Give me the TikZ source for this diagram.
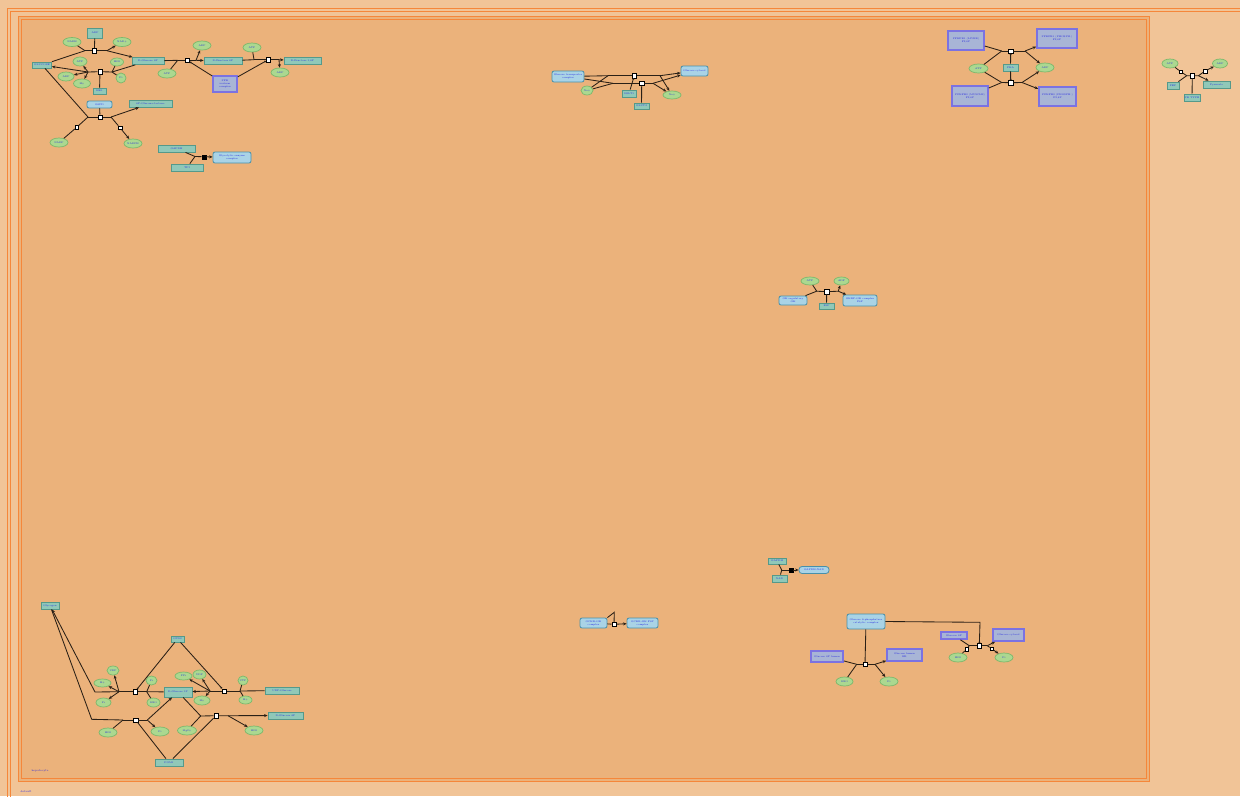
\documentclass[tikz,border=0pt]{standalone}
\usetikzlibrary{shapes.geometric,arrows.meta}
\definecolor{bgout}{HTML}{F1C497}
\definecolor{bgin}{HTML}{EBB27B}
\definecolor{frame}{HTML}{F5873A}
\definecolor{tealf}{HTML}{90C8B8}
\definecolor{tealb}{HTML}{55998A}
\definecolor{ellf}{HTML}{ABD890}
\definecolor{ellb}{HTML}{7CB86C}
\definecolor{bluef}{HTML}{A9D3E6}
\definecolor{blueb}{HTML}{4890AA}
\definecolor{purf}{HTML}{A8B5D6}
\definecolor{purb}{HTML}{7B72E2}
\definecolor{txt}{HTML}{2424E0}
\definecolor{ln}{HTML}{2A2016}
\tikzset{
 lbl/.style={font=\fontsize{2.4}{2.8}\selectfont, text=txt, align=center, inner sep=0pt},
 sz/.style 2 args={minimum width=#1pt, minimum height=#2pt},
 sp/.style={lbl, draw=tealb, fill=tealf, line width=0.8pt, rectangle},
 el/.style={lbl, draw=ellb, fill=ellf, line width=0.7pt, ellipse},
 bl/.style={lbl, draw=blueb, fill=bluef, line width=0.8pt, rounded corners=2pt, rectangle},
 pu/.style={lbl, draw=purb, fill=purf, line width=1.6pt, rectangle},
 proc/.style={draw=black, fill=white, line width=0.5pt, minimum size=4.5pt, inner sep=0pt, rectangle},
 procf/.style={draw=black, fill=black, minimum size=4pt, inner sep=0pt, rectangle},
 sm/.style={draw=black, fill=white, line width=0.4pt, minimum size=3.5pt, inner sep=0pt, rectangle},
 ed/.style={draw=ln, line width=0.85pt},
 ar/.style={ed, -{Stealth[length=3.5pt,width=3pt]}},
 md/.style={ed, -{Circle[open,length=1.8pt,fill=white]}},
}
\begin{document}
\begin{tikzpicture}[x=1pt,y=-1pt]
\useasboundingbox (0,0) rectangle (1240,796);
\fill[bgout] (0,0) rectangle (1240,796);
\draw[frame, line width=0.8pt] (7.5,8) rectangle (1260,810);
\draw[frame, line width=0.8pt] (10.5,11) rectangle (1260,810);
\fill[bgin] (18,16) rectangle (1149,781);
\draw[frame, line width=0.8pt] (18,16) rectangle (1149,781);
\draw[frame, line width=0.8pt] (21,19) rectangle (1146,778);

% ---------------- cluster A (top left)
\node[sp,sz={15}{10}] (a1) at (95,33) {ADP};
\node[el,sz={18}{9}] (a2) at (72,42) {NADH};
\node[el,sz={18}{9}] (a3) at (122,42) {NAD+};
\node[sp,sz={19}{6}] (a4) at (42,65) {GLUCOSE};
\node[sp,sz={32}{7}] (a5) at (148,61) {D-Glucose 6P};
\node[el,sz={14}{9}] (a6) at (80,61.5) {ATP};
\node[el,sz={13}{8}] (a7) at (117,62) {H2O};
\node[el,sz={16}{9}] (a8) at (66,76.5) {ADP};
\node[el,sz={17}{9}] (a9) at (82,83.5) {H+};
\node[el,sz={10}{10}] (a10) at (121,78) {Pi};
\node[sp,sz={13}{6}] (a11) at (99.5,91) {HK1};
\node[bl,sz={25}{7}] (a12) at (99.5,104.5) {G6PD};
\node[sp,sz={43}{7}] (a13) at (150.5,103.5) {6P-Glucono-lactone};
\node[el,sz={18}{9}] (a14) at (59,142.5) {NADP};
\node[el,sz={18}{9}] (a15) at (133,143.5) {NADPH};
\node[el,sz={18}{9}] (a16) at (167,73.5) {ATP};
\node[el,sz={18}{9}] (a17) at (202,45.5) {ADP};
\node[sp,sz={38}{7}] (a18) at (223,61) {D-Fructose 6P};
\node[pu,sz={24}{16}] (a19) at (225,84) {PFK\\isoform\\complex};
\node[el,sz={18}{9}] (a20) at (252,47.5) {ATP};
\node[sp,sz={37}{7}] (a21) at (302.5,61) {D-Fructose 1,6P};
\node[el,sz={18}{9}] (a22) at (280,72.5) {ADP};
\node[sp,sz={37}{7}] (a23) at (176.5,148.5) {GAPDH};
\node[sp,sz={32}{7}] (a24) at (187,167.5) {TPI};
\node[bl,sz={38}{11}] (a25) at (232,157.5) {Glycolytic enzyme\\complex};

\node[proc] (rA1) at (94.3,50.7) {};
\node[proc] (rA2) at (100,71.7) {};
\node[proc] (rA3) at (100,117) {};
\node[proc] (rA4) at (187.3,60.3) {};
\node[proc] (rA5) at (268.3,59.7) {};
\node[procf] (rA6) at (203.7,156.7) {};
\node[sm] (sA1) at (76.7,127.3) {};
\node[sm] (sA2) at (120,127.7) {};
\coordinate (jA1in) at (85,50.7);
\coordinate (jA1out) at (107,50.7);
\coordinate (jA2in) at (112,72);
\coordinate (jA2out) at (88,72);
\coordinate (jA3in) at (88,117);
\coordinate (jA3out) at (111,117);
\coordinate (jA4in) at (177.7,60.3);
\coordinate (jA4out) at (196,60.3);
\coordinate (jA5in) at (254,59.7);
\coordinate (jA5out) at (279,59.7);
\coordinate (jA6in) at (195,156.5);

\draw[ed] (a4) -- (jA1in);
\draw[ed] (a2) -- (jA1in);
\draw[ed] (jA1in) -- (rA1) -- (jA1out);
\draw[ar] (jA1out) -- (a5);
\draw[ar] (jA1out) -- (a3);
\draw[ed] (a1) -- (rA1);

\draw[ed] (a5) -- (jA2in);
\draw[ed] (a7) -- (jA2in);
\draw[ed] (a10) -- (jA2in);
\draw[ed] (jA2in) -- (rA2) -- (jA2out);
\draw[ar] (jA2out) -- (a4);
\draw[ar] (jA2out) -- (a8);
\draw[ar] (jA2out) -- (a9);
\draw[ar] (jA2out) -- (a6);
\draw[ed] (a11) -- (rA2);

\draw[ed] (a4) -- (jA3in);
\draw[ed] (a14) -- (sA1) -- (jA3in);
\draw[ed] (jA3in) -- (rA3) -- (jA3out);
\draw[ar] (jA3out) -- (a13);
\draw[ed] (jA3out) -- (sA2);
\draw[ar] (sA2) -- (a15);
\draw[ed] (a12) -- (rA3);

\draw[ed] (a5) -- (jA4in);
\draw[ed] (a16) -- (jA4in);
\draw[ed] (jA4in) -- (rA4) -- (jA4out);
\draw[ar] (jA4out) -- (a18);
\draw[ar] (jA4out) -- (a17);
\draw[md] (a19) -- (rA4);

\draw[ed] (a18) -- (jA5in);
\draw[ed] (a20) -- (jA5in);
\draw[ed] (jA5in) -- (rA5) -- (jA5out);
\draw[ar] (jA5out) -- (a21);
\draw[ar] (jA5out) -- (a22);
\draw[md] (a19) -- (rA5);

\draw[ed] (a23) -- (jA6in);
\draw[ed] (a24) -- (jA6in);
\draw[ed] (jA6in) -- (rA6);
\draw[ar] (rA6) -- (a25);

% ---------------- cluster B (top middle)
\node[bl,sz={32}{11}] (b1) at (568,76.5) {Glucose transporter\\complex};
\node[el,sz={12}{9}] (b2) at (587,90.5) {Na+};
\node[sp,sz={14}{7}] (b3) at (629,93.5) {SGLT1};
\node[sp,sz={15}{6}] (b4) at (641.5,106) {GLUT2};
\node[el,sz={18}{8}] (b5) at (672,95) {Na+};
\node[bl,sz={27}{10}] (b6) at (694.5,71) {Glucose cytosol};
\node[proc] (rB1) at (634.3,75.7) {};
\node[proc] (rB2) at (641.7,83.3) {};
\coordinate (jB1in) at (608,75.7);
\coordinate (jB1out) at (660,75.7);
\coordinate (jB2in) at (613,83.3);
\coordinate (jB2out) at (653,83.3);
\draw[ed] (b1) -- (jB1in);
\draw[ed] (b2) -- (jB1in);
\draw[ed] (jB1in) -- (rB1) -- (jB1out);
\draw[ar] (jB1out) -- (b6);
\draw[ar] (jB1out) -- (b5);
\draw[ed] (b1) -- (jB2in);
\draw[ed] (b2) -- (jB2in);
\draw[ed] (jB2in) -- (rB2) -- (jB2out);
\draw[ar] (jB2out) -- (b6);
\draw[ar] (jB2out) -- (b5);
\draw[md] (b3) -- (rB1);
\draw[ed] (b4) -- (rB2);

% ---------------- cluster C (top right)
\node[pu,sz={36}{19}] (c1) at (966,40.5) {PFKFB1 (LIVER)\\F2,6P};
\node[pu,sz={40}{19}] (c2) at (1057,38.5) {PFKFB1 (PHOSPH.)\\F2,6P};
\node[el,sz={19}{9}] (c3) at (978.5,68.5) {ATP};
\node[sp,sz={15}{7}] (c4) at (1010.5,67.5) {PKA};
\node[el,sz={18}{9}] (c5) at (1045,67.5) {ADP};
\node[pu,sz={36}{20}] (c6) at (970,96) {PFKFB3 (MUSCLE)\\F2,6P};
\node[pu,sz={37}{19}] (c7) at (1057.5,96.5) {PFKFB3 (PHOSPH.)\\F2,6P};
\node[proc] (rC1) at (1010.7,51) {};
\node[proc] (rC2) at (1010.7,82.7) {};
\coordinate (jC1in) at (1001.7,51);
\coordinate (jC1out) at (1025,51);
\coordinate (jC2in) at (1001.7,82.5);
\coordinate (jC2out) at (1022,82.5);
\draw[ed] (c1) -- (jC1in);
\draw[ed] (c3) -- (jC1in);
\draw[ed] (jC1in) -- (rC1) -- (jC1out);
\draw[ar] (jC1out) -- (c2);
\draw[ar] (jC1out) -- (c5);
\draw[md] (c4) -- (rC1);
\draw[ed] (c6) -- (jC2in);
\draw[ed] (c3) -- (jC2in);
\draw[ed] (jC2in) -- (rC2) -- (jC2out);
\draw[ar] (jC2out) -- (c5);
\draw[ar] (jC2out) -- (c7);
\draw[md] (c4) -- (rC2);

% ---------------- cluster D (far right)
\node[el,sz={16}{9}] (d1) at (1170,63.5) {ATP};
\node[el,sz={15}{9}] (d2) at (1220,63.5) {ADP};
\node[sp,sz={12}{7}] (d3) at (1173,85.5) {PEP};
\node[sp,sz={27}{7}] (d4) at (1216.5,84.5) {Pyruvate};
\node[sp,sz={16}{7}] (d5) at (1192,97.5) {PK TYPE};
\node[proc] (rD) at (1192.3,75.7) {};
\node[sm] (sD1) at (1180.7,71.7) {};
\node[sm] (sD2) at (1205,71) {};
\coordinate (jDin) at (1186.7,75.7);
\coordinate (jDout) at (1198.5,75.7);
\draw[ed] (d1) -- (sD1) -- (jDin);
\draw[ed] (d3) -- (jDin);
\draw[ed] (jDin) -- (rD) -- (jDout) -- (sD2);
\draw[ar] (sD2) -- (d2);
\draw[ar] (jDout) -- (d4);
\draw[ed] (d5) -- (rD);

% ---------------- cluster E (middle)
\node[el,sz={18}{8}] (e1) at (810,281) {ATP};
\node[el,sz={15}{8}] (e2) at (841.5,281) {ADP};
\node[bl,sz={28}{9}] (e3) at (793,300.5) {GK regulatory\\GK};
\node[bl,sz={34}{11}] (e4) at (860,300.5) {GKRP-GK complex\\F6P};
\node[sp,sz={15}{6}] (e5) at (826.5,306) {F6P};
\node[proc] (rE) at (826.7,291.7) {};
\coordinate (jEin) at (816.7,291.2);
\coordinate (jEout) at (838.3,291.2);
\draw[ed] (e3) -- (jEin);
\draw[ed] (e1) -- (jEin);
\draw[ed] (jEin) -- (rE) -- (jEout);
\draw[ar] (jEout) -- (e2);
\draw[ar] (jEout) -- (e4);
\draw[ed] (e5) -- (rE);

% ---------------- cluster F (bottom left)
\node[sp,sz={18}{7}] (f1) at (50,605.5) {Glycogen};
\node[sp,sz={13}{6}] (f2) at (177.5,639) {GYS2};
\node[el,sz={12}{9}] (f3) at (113,670.5) {UDP};
\node[el,sz={17}{8}] (f4) at (102.5,683) {H+};
\node[el,sz={15}{9}] (f5) at (103.5,702.5) {Pi};
\node[el,sz={11}{9}] (f6) at (151.5,680.5) {Pi};
\node[el,sz={13}{9}] (f7) at (153.5,702.5) {H2O};
\node[sp,sz={28}{10}] (f8) at (178,692) {D-Glucose 1P};
\node[el,sz={17}{8}] (f9) at (183.5,676) {PPi};
\node[el,sz={13}{9}] (f10) at (199.5,674.5) {UDP};
\node[el,sz={16}{9}] (f11) at (202,700.5) {H+};
\node[el,sz={10}{9}] (f12) at (243,680.5) {UTP};
\node[el,sz={13}{8}] (f13) at (245.5,700) {H+};
\node[sp,sz={34}{7}] (f14) at (282,690.5) {UDP-Glucose};
\node[sp,sz={35}{7}] (f15) at (285.5,715.5) {D-Glucose 6P};
\node[el,sz={18}{9}] (f16) at (254,730.5) {H2O};
\node[el,sz={19}{9}] (f17) at (187,730.5) {Mg2+};
\node[el,sz={18}{9}] (f18) at (160,731.5) {Pi};
\node[el,sz={18}{9}] (f19) at (108,732.5) {H2O};
\node[sp,sz={28}{7}] (f20) at (169,762.5) {PGM1};
\node[proc] (rF1) at (135,691.7) {};
\node[proc] (rF2) at (135.7,720) {};
\node[proc] (rF3) at (224.3,691) {};
\node[proc] (rF4) at (216,715.7) {};
\coordinate (jF1in) at (146.7,691.7);
\coordinate (jF1out) at (119,691.7);
\coordinate (cF1) at (95,692);
\coordinate (cF2) at (91.7,719.3);
\coordinate (jF2in) at (123,720);
\coordinate (jF2out) at (147.3,720);
\coordinate (jF3in) at (240,691);
\coordinate (jF3out) at (210,691);
\coordinate (jF4in) at (200.7,716);
\coordinate (jF4out) at (228,715.7);

\draw[ed] (f8) -- (jF1in);
\draw[ed] (f6) -- (jF1in);
\draw[ed] (f7) -- (jF1in);
\draw[ed] (jF1in) -- (rF1) -- (jF1out);
\draw[ar] (jF1out) -- (f3);
\draw[ar] (jF1out) -- (f4);
\draw[ar] (jF1out) -- (f5);
\draw[ar] (jF1out) -- (cF1) -- (f1);
\draw[md] (f2) -- (rF1);

\draw[ed] (f1) -- (cF2) -- (jF2in);
\draw[ed] (f19) -- (jF2in);
\draw[ed] (jF2in) -- (rF2) -- (jF2out);
\draw[ar] (jF2out) -- (f8);
\draw[ar] (jF2out) -- (f18);
\draw[ed] (f20) -- (rF2);

\draw[ed] (f14) -- (jF3in);
\draw[ed] (f12) -- (jF3in);
\draw[ed] (f13) -- (jF3in);
\draw[ed] (jF3in) -- (rF3) -- (jF3out);
\draw[ar] (jF3out) -- (f8);
\draw[ar] (jF3out) -- (f9);
\draw[ar] (jF3out) -- (f10);
\draw[ar] (jF3out) -- (f11);
\draw[md] (f2) -- (rF3);

\draw[ed] (f8) -- (jF4in);
\draw[ed] (f17) -- (jF4in);
\draw[ed] (jF4in) -- (rF4) -- (jF4out);
\draw[ar] (jF4out) -- (f15);
\draw[ar] (jF4out) -- (f16);
\draw[ed] (f20) -- (rF4);

% ---------------- cluster G (bottom middle)
\node[bl,sz={27}{10}] (g1) at (593.5,623) {GCKR-GK\\complex};
\node[bl,sz={31}{10}] (g2) at (642.5,623) {GCKR-GK F6P\\complex};
\node[proc] (rG) at (614,624.3) {};
\coordinate (cG) at (614.3,612.3);
\draw[ed] (g1.north east) -- (cG) -- (rG);
\draw[ed] (g1) -- (rG);
\draw[ar] (rG) -- (g2);

% ---------------- cluster H (bottom right)
\node[sp,sz={18}{6}] (h1) at (777,561) {GAPDH};
\node[sp,sz={15}{7}] (h2) at (779.5,578.5) {NAD};
\node[procf] (rH) at (790.7,570) {};
\node[bl,sz={30}{7},rounded corners=3pt] (h3) at (814,570) {GAPDH-NAD};
\coordinate (jH) at (781.7,570);
\draw[ed] (h1) -- (jH);
\draw[ed] (h2) -- (jH);
\draw[ed] (jH) -- (rH);
\draw[ar] (rH) -- (h3);

\node[bl,sz={38}{15}] (h4) at (866,621.5) {Glucose 6-phosphatase\\catalytic complex};
\node[pu,sz={32}{11}] (h5) at (827,656.5) {Glucose 6P lumen};
\node[el,sz={17}{9}] (h6) at (844.5,681.5) {H2O};
\node[el,sz={18}{9}] (h7) at (889,681.5) {Pi};
\node[pu,sz={35}{12}] (h8) at (904.5,655) {Glucose lumen\\ER};
\node[pu,sz={26}{7}] (h9) at (954,635.5) {Glucose 6P};
\node[el,sz={18}{9}] (h10) at (958,657.5) {H2O};
\node[pu,sz={31}{12}] (h11) at (1008.5,635) {Glucose cytosol};
\node[el,sz={18}{9}] (h12) at (1004,657.5) {Pi};
\node[proc] (rH2) at (865,664.3) {};
\node[proc] (rH3) at (979.3,645.7) {};
\node[sm] (sH1) at (966.7,649) {};
\node[sm] (sH2) at (991.7,648.7) {};
\coordinate (jH2in) at (856.7,664.3);
\coordinate (jH2out) at (875,664.3);
\coordinate (jH3in) at (969.3,645.7);
\coordinate (jH3out) at (987.3,645.7);
\coordinate (cH) at (980,622.3);

\draw[ed] (h4) -- (rH2);
\draw[ed] (h5) -- (jH2in);
\draw[ed] (h6) -- (jH2in);
\draw[ed] (jH2in) -- (rH2) -- (jH2out);
\draw[ar] (jH2out) -- (h8);
\draw[ar] (jH2out) -- (h7);

\draw[md] (h4.east) -- (cH) -- (rH3);
\draw[ed] (h9) -- (jH3in);
\draw[ed] (h10) -- (sH1) -- (jH3in);
\draw[ed] (jH3in) -- (rH3) -- (jH3out);
\draw[ar] (jH3out) -- (h11);
\draw[ed] (jH3out) -- (sH2);
\draw[ar] (sH2) -- (h12);

% ---------------- compartment labels
\node[lbl, font=\fontsize{2.6}{3}\selectfont] (t1) at (40,771) {hepatocyte};
\node[lbl, font=\fontsize{2.6}{3}\selectfont] (t2) at (26,792) {default};
\end{tikzpicture}
\end{document}
